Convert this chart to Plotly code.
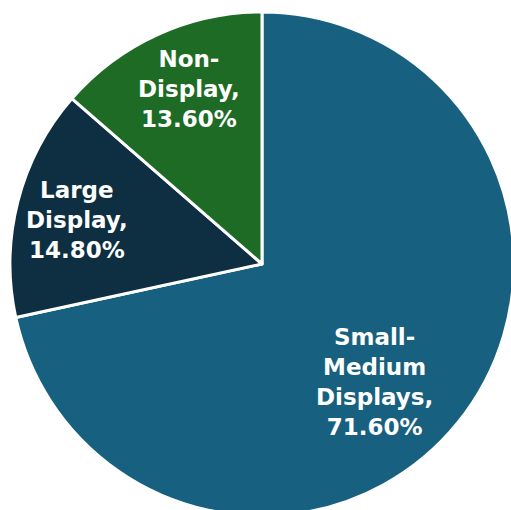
import math
import plotly.graph_objects as go

categories = ["Small-Medium Displays", "Large Display", "Non-Display"]
label_lines = ["Small-<br>Medium<br>Displays,", "Large<br>Display,", "Non-<br>Display,"]
values = [71.6, 14.8, 13.6]
colors = ["#176080", "#0e2e42", "#1d6b25"]

# label placement styling (radial fraction and angular tweak in degrees)
label_radius = [0.645, 0.753, 0.754]
label_angle_tweak = [7.5, -1.1, 1.9]

fig = go.Figure(go.Pie(
    labels=categories,
    values=values,
    textinfo="none",
    sort=False,
    direction="clockwise",
    rotation=0,
    marker=dict(colors=colors, line=dict(color="white", width=3)),
    showlegend=False,
    hoverinfo="skip",
))

total = sum(values)
cum = 0.0
for lab, v, fr, tw in zip(label_lines, values, label_radius, label_angle_tweak):
    mid = (cum + v / 2) / total * 360 + tw
    cum += v
    th = math.radians(mid)
    x = 0.5 + 0.5 * fr * math.sin(th)
    y = 0.5 + 0.5 * fr * math.cos(th)
    fig.add_annotation(
        x=x, y=y, xref="paper", yref="paper",
        xanchor="center", yanchor="middle",
        text=f"{lab}<br>{v:.2f}%",
        showarrow=False,
        font=dict(family="DejaVu Sans", size=23, color="white", weight="bold"),
    )

fig.update_layout(
    width=514, height=516,
    margin=dict(l=10, r=0, t=12, b=0),
    paper_bgcolor="white",
)
fig.write_html(
    "out.html",
    config={"displayModeBar": False},
    post_script="document.body.style.margin='0';document.body.style.overflow='hidden';",
)
